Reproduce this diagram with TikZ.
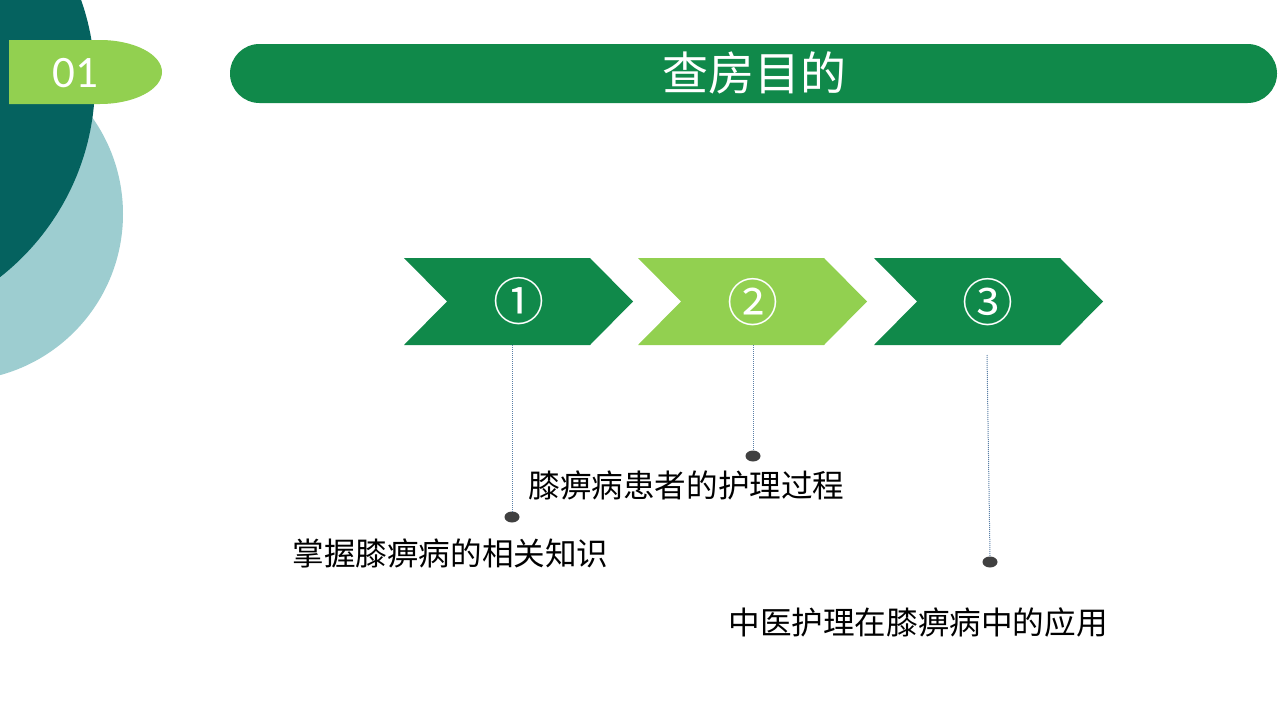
\documentclass[tikz,border=0pt]{standalone}
\usepackage{fontspec}
\newfontfamily\cjk{Noto Sans CJK SC}
\newfontfamily\numfont{Carlito}
\usetikzlibrary{shapes.geometric}
\definecolor{darkteal}{HTML}{05625F}
\definecolor{lightteal}{HTML}{9DCDD0}
\definecolor{mygreen}{HTML}{10894A}
\definecolor{lightgreen}{HTML}{92D050}
\definecolor{dotgrey}{HTML}{404040}
\definecolor{linkblue}{HTML}{5A7FA6}
\begin{document}
\begin{tikzpicture}[x=1pt,y=-1pt,
  chevdark/.style={fill=mygreen},
  chevlight/.style={fill=lightgreen},
  numtext/.style={text=white,inner sep=0pt,font=\cjk\fontsize{51}{56}\selectfont},
  lbltext/.style={text=black,inner sep=0pt,font=\cjk\fontsize{31.6}{36}\selectfont},
  dotnode/.style={ellipse,fill=dotgrey,minimum width=15pt,minimum height=11pt,inner sep=0pt},
  link/.style={linkblue,densely dotted,line width=1pt}]
\useasboundingbox (0,0) rectangle (1280,720);
% background circles
\begin{scope}
\clip (0,0) rectangle (1280,720);
\fill[lightteal] (-44,214) circle[radius=167pt];
\fill[darkteal] (-153,82) circle[radius=248pt];
\end{scope}
% 01 tag
\fill[lightgreen] (9,40) -- (100,40) .. controls (134,40) and (162,54.3) .. (162,72)
  .. controls (162,89.7) and (134,104) .. (100,104) -- (9,104) -- cycle;
\node[text=white,inner sep=0pt,font=\numfont\fontsize{45}{50}\selectfont] (num01) at (75,73) {01};
% title bar
\fill[mygreen,rounded corners=29.5pt] (230,44) rectangle (1277,103);
\node[text=white,inner sep=0pt,font=\cjk\fontsize{46}{52}\selectfont] (title) at (754.5,73) {查房目的};
% chevrons
\fill[chevdark] (404,258) -- (590,258) -- (633,301.5) -- (590,345) -- (404,345) -- (447,301.5) -- cycle;
\fill[chevlight] (638,258) -- (824,258) -- (867,301.5) -- (824,345) -- (638,345) -- (681,301.5) -- cycle;
\fill[chevdark] (874,258) -- (1060,258) -- (1103,301.5) -- (1060,345) -- (874,345) -- (917,301.5) -- cycle;
\node[numtext] (n1) at (519,301) {①};
\node[numtext] (n2) at (753,302) {②};
\node[numtext] (n3) at (988,302) {③};
% connector start points
\coordinate (c1) at (512,345);
\coordinate (c2) at (753,345);
\coordinate (c3) at (987,355);
% dots
\node[dotnode] (d1) at (512,517) {};
\node[dotnode] (d2) at (753,456) {};
\node[dotnode] (d3) at (990,562) {};
\draw[link] (c1) -- (d1.north);
\draw[link] (c2) -- (d2.north);
\draw[link] (c3) -- (d3.north);
% labels
\node[lbltext] (t2) at (686.5,485) {膝痹病患者的护理过程};
\node[lbltext] (t1) at (450.5,553.5) {掌握膝痹病的相关知识};
\node[lbltext] (t3) at (918,622) {中医护理在膝痹病中的应用};
\end{tikzpicture}
\end{document}
